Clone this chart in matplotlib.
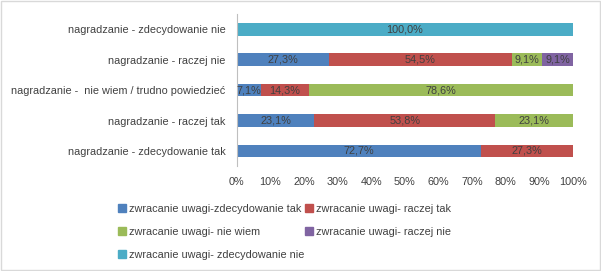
import matplotlib.pyplot as plt
from matplotlib.patches import Patch
import numpy as np

# categories, bottom to top
categories = ["nagradzanie - zdecydowanie tak",
              "nagradzanie - raczej tak",
              "nagradzanie -  nie wiem / trudno powiedzieć",
              "nagradzanie - raczej nie",
              "nagradzanie - zdecydowanie nie"]

series_names = ["zwracanie uwagi-zdecydowanie tak",
                "zwracanie uwagi- raczej tak",
                "zwracanie uwagi- nie wiem",
                "zwracanie uwagi- raczej nie",
                "zwracanie uwagi- zdecydowanie nie"]

zdec_tak = [72.7, 23.1, 7.1, 27.3, 0.0]
raczej_tak = [27.3, 53.8, 14.3, 54.5, 0.0]
nie_wiem = [0.0, 23.1, 78.6, 9.1, 0.0]
raczej_nie = [0.0, 0.0, 0.0, 9.1, 0.0]
zdec_nie = [0.0, 0.0, 0.0, 0.0, 100.0]

series = [zdec_tak, raczej_tak, nie_wiem, raczej_nie, zdec_nie]
colors = ["#4F81BD", "#C0504D", "#9BBB59", "#8064A2", "#4BACC6"]

plt.rcParams['font.family'] = ['Liberation Sans', 'DejaVu Sans']
txt = "#404040"
fs = 7.8

fig = plt.figure(figsize=(6.01, 2.71), dpi=100)
ax = fig.add_axes([0.394, 0.387, 0.559, 0.561])

y = np.arange(len(categories))
left = np.zeros(len(categories))
for vals, col in zip(series, colors):
    vals = np.array(vals)
    ax.barh(y, vals, left=left, height=0.42, color=col)
    for yi, v, l in zip(y, vals, left):
        if v > 0:
            ax.text(l + v / 2, yi, ("%.1f%%" % v).replace(".", ","),
                    ha="center", va="center", fontsize=fs, color=txt)
    left += vals

ax.set_xlim(0, 100)
ax.set_ylim(-0.5, 4.5)
ax.set_yticks(y)
ax.set_yticklabels(categories, fontsize=fs, color=txt)
ax.set_xticks(np.arange(0, 101, 10))
ax.set_xticklabels(["%d%%" % t for t in range(0, 101, 10)], fontsize=fs, color=txt)
ax.tick_params(axis="y", length=0, pad=8)
ax.tick_params(axis="x", length=0, pad=7.5)
for s in ["top", "right", "bottom"]:
    ax.spines[s].set_visible(False)
ax.spines["left"].set_color("#BFBFBF")

# legend, Excel fills rows first
order = [0, 2, 4, 1, 3]
handles = [Patch(color=colors[i], label=series_names[i]) for i in order]
fig.legend(handles=handles, loc="upper left", bbox_to_anchor=(0.18, 0.285),
           ncol=2, frameon=False, fontsize=fs, handlelength=0.7, handleheight=0.7,
           handletextpad=0.3, columnspacing=0.1, labelspacing=1.2, labelcolor=txt)

# light border around the chart
fig.patches.append(plt.Rectangle((0.001, 0.002), 0.997, 0.995, transform=fig.transFigure,
                                 fill=False, edgecolor="#D9D9D9", linewidth=1))

fig.savefig("out.png", dpi=100)
